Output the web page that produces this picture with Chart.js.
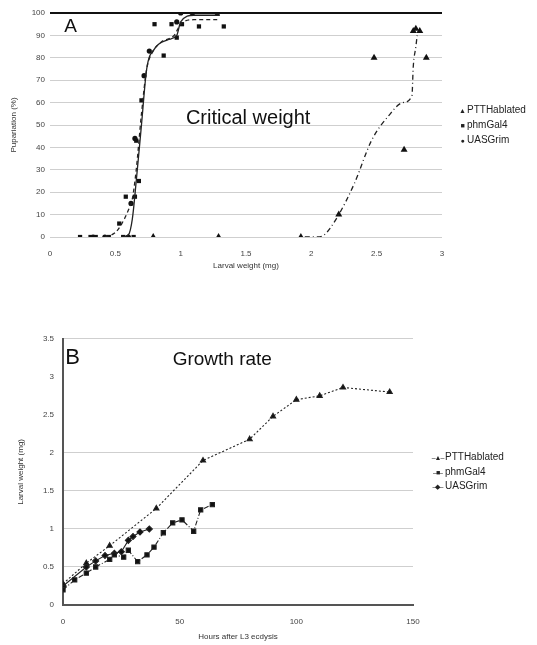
<!DOCTYPE html>
<html lang="en">
<head>
<meta charset="UTF-8">
<title>Critical weight and growth rate</title>
<style>
    body {
        margin: 0;
        background: #fff;
        font-family: "Liberation Sans", Arial, sans-serif;
    }
    .wrap {
        position: relative;
        width: 537px;
        height: 645px;
    }
    #chartA { position: absolute; left: 0; top: 0; }
    #chartB { position: absolute; left: 0; top: 325px; }
    .legend {
        position: absolute;
        font-size: 10px;
        color: #222;
        white-space: nowrap;
    }
    .legend .mk {
        display: inline-block;
        width: 9px;
        font-size: 7px;
        text-align: center;
    }
    .legend .ln {
        display: inline-block;
        width: 15px;
        font-size: 7px;
        text-align: center;
        letter-spacing: -1px;
    }
</style>
<script src="https://cdn.jsdelivr.net/npm/chart.js"></script>
</head>
<body>
<div class="wrap">
    <canvas id="chartA" width="537" height="275"></canvas>
    <canvas id="chartB" width="537" height="320"></canvas>
    <div class="legend" id="legendA" style="left:458px; top:103px; line-height:14px;"></div>
    <div class="legend" id="legendB" style="left:430px; top:450px; line-height:13.5px;"></div>
</div>

<script>
    // series names
    const seriesNames = ['PTTHablated', 'phmGal4', 'UASGrim'];

    // A: critical weight, larval weight (mg) vs % pupariation
    const ptthWeight = [0.79, 1.29, 1.92, 2.21, 2.48, 2.71, 2.78, 2.80, 2.83, 2.88];
    const ptthPupa   = [0, 0, 0, 10, 80, 39, 92, 93, 92, 80];
    const phmWeight  = [0.23, 0.31, 0.35, 0.45, 0.56, 0.64, 0.53, 0.58, 0.65, 0.68, 0.66, 0.70, 0.80, 0.87, 0.93, 1.01, 1.14, 1.33, 0.97];
    const phmPupa    = [0, 0, 0, 0, 0, 0, 6, 18, 18, 25, 43, 61, 95, 81, 95, 95, 94, 94, 89];
    const uasWeight  = [0.33, 0.42, 0.60, 0.62, 0.65, 0.72, 0.76, 0.97, 1.00, 1.09, 1.28];
    const uasPupa    = [0, 0, 0, 15, 44, 72, 83, 96, 100, 100, 100];

    // fitted curves
    const ptthFitX = [1.95, 2.05, 2.10, 2.20, 2.33, 2.46, 2.59, 2.70, 2.77, 2.78, 2.80, 2.81];
    const ptthFitY = [0, 0, 1, 9, 24, 43, 54, 60, 63, 76, 85, 90];
    const phmFitX  = [0.42, 0.50, 0.55, 0.60, 0.63, 0.66, 0.70, 0.74, 0.78, 0.85, 0.95, 1.00, 1.10, 1.30];
    const phmFitY  = [0, 2, 6, 12, 17, 30, 55, 75, 82, 87, 90, 95, 97, 97];
    const uasFitX  = [0.55, 0.60, 0.63, 0.66, 0.70, 0.74, 0.80, 0.90, 0.97, 1.00, 1.10, 1.30];
    const uasFitY  = [0, 1, 8, 25, 50, 75, 84, 88, 90, 96, 99, 99];

    // B: growth rate, hours after L3 ecdysis vs larval weight (mg)
    const ptthHours = [0, 10, 20, 40, 60, 80, 90, 100, 110, 120, 140];
    const ptthMass  = [0.28, 0.55, 0.78, 1.27, 1.90, 2.18, 2.48, 2.70, 2.75, 2.86, 2.80];
    const phmHours  = [0, 5, 10, 14, 20, 22, 26, 28, 32, 36, 39, 43, 47, 51, 56, 59, 64];
    const phmMass   = [0.20, 0.33, 0.42, 0.50, 0.60, 0.66, 0.63, 0.72, 0.57, 0.66, 0.76, 0.95, 1.08, 1.12, 0.97, 1.25, 1.32];
    const uasHours  = [0, 10, 14, 18, 22, 25, 28, 30, 33, 37];
    const uasMass   = [0.25, 0.50, 0.58, 0.65, 0.68, 0.70, 0.85, 0.90, 0.96, 1.00];

    const xTicksA = [0, 0.5, 1, 1.5, 2, 2.5, 3];
    const yTicksA = [0, 10, 20, 30, 40, 50, 60, 70, 80, 90, 100];
    const xTicksB = [0, 50, 100, 150];
    const yTicksB = [0, 0.5, 1, 1.5, 2, 2.5, 3, 3.5];

    const markers = ['triangle', 'rect', 'circle'];
    const markersB = ['triangle', 'rect', 'rectRot'];
    const legendGlyphs = ['▲', '■', '●'];
    const legendGlyphsB = ['▲', '■', '◆'];

    const FONT = '"Liberation Sans", Arial, sans-serif';
    const zip = (xs, ys) => xs.map((x, i) => ({ x: x, y: ys[i] }));
    const plain = v => String(v);

    // draws the panel letter and title inside the plot
    const panelText = {
        id: 'panelText',
        afterDraw(chart, args, opts) {
            const { ctx, scales: { x, y } } = chart;
            ctx.save();
            ctx.fillStyle = '#111';
            ctx.textBaseline = 'middle';
            opts.items.forEach(t => {
                ctx.font = t.size + 'px ' + FONT;
                ctx.fillText(t.text, x.getPixelForValue(t.x), y.getPixelForValue(t.y));
            });
            ctx.restore();
        }
    };

    function fixedTicks(list) {
        return function (scale) {
            scale.ticks = list.map(v => ({ value: v }));
        };
    }

    // ---------- panel A ----------
    const scatterA = [
        [ptthWeight, ptthPupa], [phmWeight, phmPupa], [uasWeight, uasPupa]
    ].map((s, i) => ({
        type: 'scatter',
        label: seriesNames[i],
        data: zip(s[0], s[1]),
        pointStyle: markers[i],
        pointRadius: i === 0 ? 4 : (i === 2 ? 2.6 : 3),
        backgroundColor: '#111',
        borderColor: '#111',
        borderWidth: 0
    }));

    const fitsA = [
        [ptthFitX, ptthFitY, [5, 3, 1, 3]],
        [phmFitX, phmFitY, [4, 3]],
        [uasFitX, uasFitY, []]
    ].map(f => ({
        type: 'line',
        label: 'fit',
        data: zip(f[0], f[1]),
        borderColor: '#222',
        borderWidth: 1.3,
        borderDash: f[2],
        pointRadius: 0,
        cubicInterpolationMode: 'monotone',
        fill: false
    }));

    new Chart(document.getElementById('chartA'), {
        data: { datasets: fitsA.concat(scatterA) },
        options: {
            responsive: false,
            animation: false,
            layout: { padding: { top: 13, right: 95, left: 0, bottom: 0 } },
            plugins: {
                legend: { display: false },
                tooltip: { enabled: false },
                panelText: {
                    items: [
                        { text: 'A', x: 0.11, y: 94, size: 19 },
                        { text: 'Critical weight', x: 1.04, y: 53, size: 20 }
                    ]
                }
            },
            scales: {
                x: {
                    type: 'linear',
                    min: 0,
                    max: 3,
                    afterBuildTicks: fixedTicks(xTicksA),
                    afterFit: s => { s.height = 38; },
                    grid: { display: false },
                    border: { display: false },
                    ticks: { font: { size: 8, family: FONT }, color: '#444', padding: 4, callback: plain },
                    title: { display: true, text: 'Larval weight (mg)', font: { size: 8, family: FONT }, color: '#333', padding: { top: 2, bottom: 4 } }
                },
                y: {
                    min: 0,
                    max: 100,
                    afterBuildTicks: fixedTicks(yTicksA),
                    afterFit: s => { s.width = 50; },
                    grid: {
                        drawTicks: false,
                        color: c => c.tick && c.tick.value === 100 ? '#111' : '#cfcfcf',
                        lineWidth: c => c.tick && c.tick.value === 100 ? 2 : 1
                    },
                    border: { display: false },
                    ticks: { font: { size: 8, family: FONT }, color: '#444', padding: 5, callback: plain },
                    title: { display: true, text: 'Pupariation (%)', font: { size: 8, family: FONT }, color: '#333', padding: { top: 9, bottom: 2 } }
                }
            }
        },
        plugins: [panelText]
    });

    // ---------- panel B ----------
    const dashesB = [[2, 2], [5, 2, 1, 2], []];
    const seriesB = [
        [ptthHours, ptthMass], [phmHours, phmMass], [uasHours, uasMass]
    ].map((s, i) => ({
        type: 'line',
        label: seriesNames[i],
        data: zip(s[0], s[1]),
        pointStyle: markersB[i],
        pointRadius: 3,
        backgroundColor: '#111',
        borderColor: '#222',
        borderWidth: 1.1,
        borderDash: dashesB[i],
        tension: 0,
        fill: false
    }));

    new Chart(document.getElementById('chartB'), {
        data: { datasets: seriesB },
        options: {
            responsive: false,
            animation: false,
            layout: { padding: { top: 10, right: 124, left: 0, bottom: 0 } },
            plugins: {
                legend: { display: false },
                tooltip: { enabled: false },
                panelText: {
                    items: [
                        { text: 'B', x: 1, y: 3.25, size: 22 },
                        { text: 'Growth rate', x: 47, y: 3.22, size: 19 }
                    ]
                }
            },
            scales: {
                x: {
                    type: 'linear',
                    min: 0,
                    max: 150,
                    afterBuildTicks: fixedTicks(xTicksB),
                    afterFit: s => { s.height = 40; },
                    grid: { display: false },
                    border: { display: true, color: '#555', width: 2 },
                    ticks: { font: { size: 8, family: FONT }, color: '#444', padding: 4, callback: plain },
                    title: { display: true, text: 'Hours after L3 ecdysis', font: { size: 8, family: FONT }, color: '#333', padding: { top: 2, bottom: 3 } }
                },
                y: {
                    min: 0,
                    max: 3.5,
                    afterBuildTicks: fixedTicks(yTicksB),
                    afterFit: s => { s.width = 63; },
                    grid: {
                        drawTicks: false,
                        color: c => {
                            const v = c.tick ? c.tick.value : 0;
                            return (v > 2 && v < 3.5) ? 'rgba(0,0,0,0)' : '#cfcfcf';
                        }
                    },
                    border: { display: true, color: '#555', width: 2 },
                    ticks: { font: { size: 8, family: FONT }, color: '#444', padding: 9, callback: plain },
                    title: { display: true, text: 'Larval weight (mg)', font: { size: 8, family: FONT }, color: '#333', padding: { top: 16, bottom: 2 } }
                }
            }
        },
        plugins: [panelText]
    });

    // ---------- legends ----------
    document.getElementById('legendA').innerHTML = seriesNames
        .map((n, i) => '<div><span class="mk">' + legendGlyphs[i] + '</span>' + n + '</div>').join('');
    document.getElementById('legendB').innerHTML = seriesNames
        .map((n, i) => '<div><span class="ln">–' + legendGlyphsB[i] + '–</span>' + n + '</div>').join('');
</script>
</body>
</html>
